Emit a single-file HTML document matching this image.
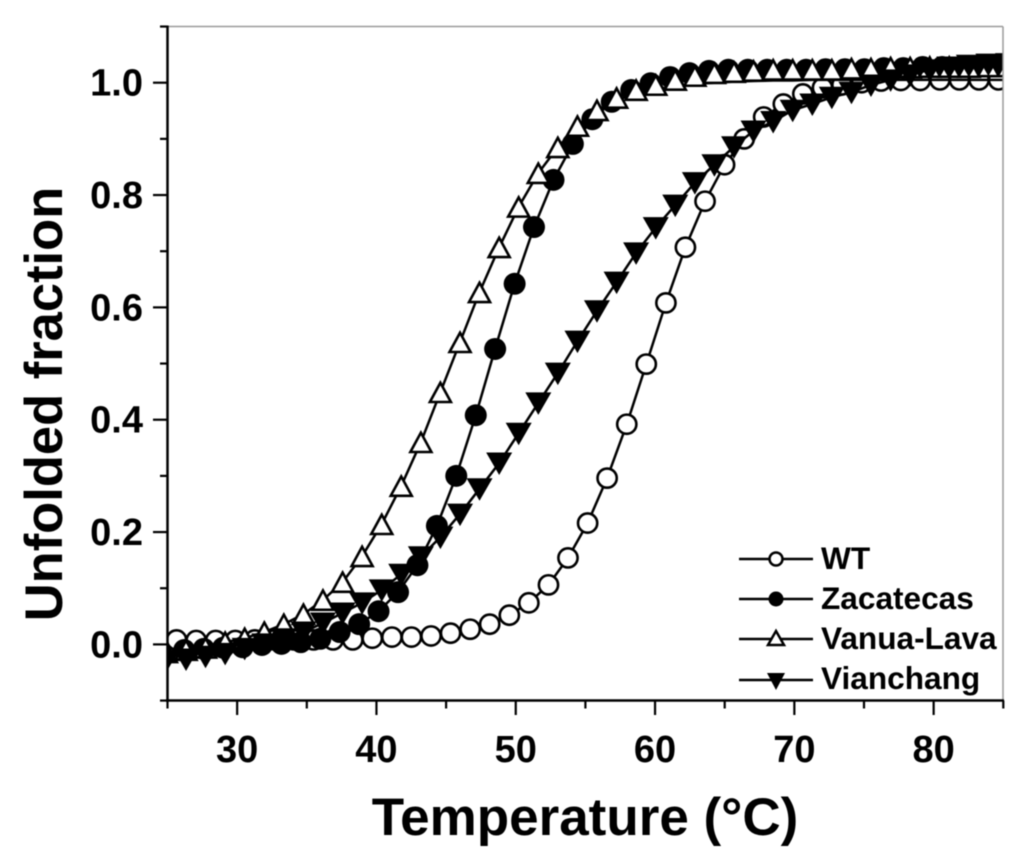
<!DOCTYPE html>
<html lang="en">
<head>
<meta charset="utf-8">
<title>Unfolded fraction vs Temperature</title>
<style>
  html, body { margin: 0; padding: 0; background: #fff; }
  svg { display: block; font-family: "Liberation Sans", Arial, sans-serif; font-weight: bold; fill: #000; filter: blur(0.4px); }
</style>
</head>
<body>
<svg id="chart" xmlns="http://www.w3.org/2000/svg" width="1024" height="867" viewBox="0 0 1024 867">
  <defs>
    <clipPath id="plot-clip"><rect x="167.5" y="26.5" width="835.5" height="674"></rect></clipPath>
  </defs>
  <rect x="0" y="0" width="1024" height="867" fill="#fff"></rect>
  <g id="series-layer" clip-path="url(#plot-clip)"></g>
  <g id="axes-layer"></g>
  <text x="585" y="835" text-anchor="middle" font-size="53">Temperature (°C)</text>
  <text transform="translate(62,404) rotate(-90)" text-anchor="middle" font-size="52.5">Unfolded fraction</text>
  <g>
    <g>
      <line x1="739" x2="813" y1="559" y2="559" stroke="#000" stroke-width="2.5"></line>
      <circle cx="776" cy="559" r="6.5" fill="#fff" stroke="#000" stroke-width="2.5"></circle>
      <text x="821" y="569" font-size="31.6">WT</text>
    </g>
    <g>
      <line x1="739" x2="813" y1="599" y2="599" stroke="#000" stroke-width="2.5"></line>
      <circle cx="776" cy="599" r="7.5" fill="#000"></circle>
      <text x="821" y="609" font-size="31.6">Zacatecas</text>
    </g>
    <g>
      <line x1="739" x2="813" y1="639" y2="639" stroke="#000" stroke-width="2.5"></line>
      <polygon points="776,631 784,645 768,645" fill="#fff" stroke="#000" stroke-width="2.5"></polygon>
      <text x="821" y="649" font-size="31.6">Vanua-Lava</text>
    </g>
    <g>
      <line x1="739" x2="813" y1="680" y2="680" stroke="#000" stroke-width="2.5"></line>
      <polygon points="767,673 785,673 776,690" fill="#000"></polygon>
      <text x="821" y="689" font-size="31.6">Vianchang</text>
    </g>
  </g>
</svg>
<script>
const xTickValues = [25, 30, 35, 40, 45, 50, 55, 60, 65, 70, 75, 80, 85];
const xTickLabels = ["", "30", "", "40", "", "50", "", "60", "", "70", "", "80", ""];
const yTickValues = [-0.1, 0, 0.1, 0.2, 0.3, 0.4, 0.5, 0.6, 0.7, 0.8, 0.9, 1.0, 1.1];
const yTickLabels = ["", "0.0", "", "0.2", "", "0.4", "", "0.6", "", "0.8", "", "1.0", ""];

const wtTemps = [25.65,27.06,28.46,29.87,31.27,32.68,34.08,35.49,36.89,38.30,39.70,41.11,42.51,43.92,45.32,46.73,48.13,49.54,50.94,52.35,53.75,55.16,56.56,57.97,59.37,60.78,62.18,63.59,64.99,66.40,67.80,69.21,70.61,72.02,73.42,74.83,76.23,77.64,79.04,80.45,81.85,83.26,84.66];
const wtValues = [.008,.007,.007,.007,.008,.008,.008,.008,.008,.008,.011,.013,.013,.015,.020,.027,.036,.052,.074,.106,.154,.216,.296,.392,.499,.608,.707,.789,.854,.900,.939,.962,.980,.991,.996,1.000,1.003,1.004,1.004,1.005,1.005,1.005,1.005];

const zacatecasTemps = [26.20,27.60,28.99,30.39,31.78,33.18,34.57,35.97,37.36,38.76,40.15,41.55,42.94,44.34,45.73,47.13,48.52,49.92,51.31,52.71,54.10,55.50,56.89,58.29,59.68,61.08,62.47,63.87,65.26,66.66,68.05,69.45,70.84,72.24,73.63,75.03,76.42,77.82,79.21,80.61,82.00,83.40,84.79];
const zacatecasValues = [-.010,-.008,-.006,-.005,-.001,.001,.004,.010,.022,.036,.059,.093,.141,.211,.300,.408,.526,.642,.743,.827,.891,.935,.966,.987,.999,1.010,1.017,1.021,1.023,1.023,1.023,1.023,1.023,1.024,1.024,1.024,1.026,1.026,1.028,1.028,1.029,1.029,1.029];

const vanuaTemps = [24.92,26.33,27.73,29.14,30.54,31.95,33.35,34.76,36.16,37.57,38.97,40.38,41.78,43.19,44.59,46.00,47.40,48.81,50.21,51.62,53.02,54.43,55.83,57.24,58.64,60.05,61.45,62.86,64.26,65.67,67.07,68.48,69.88,71.29,72.69,74.10,75.50,76.91,78.31,79.72,81.12,82.53,83.93,85.34];
const vanuaValues = [-.014,-.010,-.006,.004,.011,.022,.036,.054,.079,.111,.157,.214,.282,.360,.449,.538,.627,.707,.779,.839,.885,.923,.951,.973,.987,.996,1.005,1.012,1.017,1.019,1.021,1.023,1.023,1.023,1.023,1.025,1.025,1.027,1.027,1.028,1.028,1.028,1.029,1.029];
const vanuaFit = [-.014,-.010,-.006,.004,.011,.022,.036,.054,.079,.111,.157,.214,.282,.360,.449,.538,.627,.707,.779,.839,.885,.923,.951,.969,.980,.988,.994,.998,1.000,1.002,1.003,1.004,1.004,1.005,1.005,1.005,1.005,1.005,1.005,1.005,1.005,1.005,1.005,1.005];

const vianchangTemps = [24.92,26.33,27.73,29.14,30.54,31.95,33.35,34.76,36.16,37.57,38.97,40.38,41.78,43.19,44.59,46.00,47.40,48.81,50.21,51.62,53.02,54.43,55.83,57.24,58.64,60.05,61.45,62.86,64.26,65.67,67.07,68.48,69.88,71.29,72.69,74.10,75.50,76.91,78.31,79.72,81.12,82.53,83.93,85.34];
const vianchangValues = [-.028,-.026,-.021,-.016,-.007,.001,.010,.022,.038,.056,.074,.097,.125,.156,.191,.232,.277,.323,.376,.430,.483,.540,.594,.645,.697,.742,.782,.822,.854,.886,.914,.931,.951,.962,.974,.983,.996,1.005,1.014,1.023,1.028,1.031,1.033,1.034];

const SVG_NS = "http://www.w3.org/2000/svg";

function xScale(t) { return 167.5 + (t - 25) * 13.93; }
function yScale(v) { return 644.4 - v * 561.7; }

function make(tag, attrs, parent) {
  const el = document.createElementNS(SVG_NS, tag);
  for (const k in attrs) el.setAttribute(k, attrs[k]);
  parent.appendChild(el);
  return el;
}

const axes = document.getElementById("axes-layer");

const topFrame = make("line", { x1: 167.5, x2: 1003, y1: 26.5, y2: 26.5, stroke: "#9a9a9a", "stroke-width": 1.5 }, axes);


const rightFrame = make("line", { x1: 1003, x2: 1003, y1: 26.5, y2: 700.5, stroke: "#9a9a9a", "stroke-width": 1.5 }, axes);


const yAxisLine = make("line", { x1: 167.5, x2: 167.5, y1: 25.5, y2: 701.7, stroke: "#000", "stroke-width": 2.5 }, axes);


const xAxisLine = make("line", { x1: 166, x2: 1004, y1: 700.5, y2: 700.5, stroke: "#000", "stroke-width": 2.5 }, axes);



xTickValues.forEach(function (t, i) {
  const x = xScale(t);
  const major = xTickLabels[i] !== "";
  const tick = make("line", { x1: x, x2: x, y1: 700.5, y2: major ? 715 : 708.5, stroke: "#000", "stroke-width": 2.2 }, axes);
  
  
  if (major) {
    const label = make("text", { x: x, y: 762, "text-anchor": "middle", "font-size": 38 }, axes);
    label.textContent = xTickLabels[i];
    
    
  }
});

yTickValues.forEach(function (v, i) {
  const y = yScale(v);
  const major = yTickLabels[i] !== "";
  const tick = make("line", { x1: major ? 153 : 160, x2: 167.5, y1: y, y2: y, stroke: "#000", "stroke-width": 2.2 }, axes);
  
  
  if (major) {
    const label = make("text", { x: 143, y: y + 13, "text-anchor": "end", "font-size": 38 }, axes);
    label.textContent = yTickLabels[i];
    
    
  }
});

const layer = document.getElementById("series-layer");

function drawMarker(kind, x, y, parent) {
  let m;
  if (kind === "open-circle") {
    m = make("circle", { cx: x, cy: y, r: 9.6, fill: "#fff", stroke: "#000", "stroke-width": 2.6 }, parent);
  } else if (kind === "filled-circle") {
    m = make("circle", { cx: x, cy: y, r: 11, fill: "#000" }, parent);
  } else if (kind === "open-triangle") {
    m = make("polygon", { points: (x) + "," + (y - 9.5) + " " + (x + 10.5) + "," + (y + 9.8) + " " + (x - 10.5) + "," + (y + 9.8), fill: "#fff", stroke: "#000", "stroke-width": 2.6 }, parent);
  } else {
    m = make("polygon", { points: (x - 13) + "," + (y - 10.5) + " " + (x + 13) + "," + (y - 10.5) + " " + x + "," + (y + 12), fill: "#000" }, parent);
  }
  return m;
}

function polyPoints(temps, values) {
  return temps.map(function (t, i) { return xScale(t).toFixed(1) + "," + yScale(values[i]).toFixed(1); }).join(" ");
}

function drawSeries(name, kind, temps, values, lineValues) {
  const g = make("g", {}, layer);
  
  
  const line = make("polyline", { points: polyPoints(temps, lineValues), fill: "none", stroke: "#000", "stroke-width": 2.5, "stroke-linejoin": "round" }, g);
  
  
  temps.forEach(function (t, i) {
    const m = drawMarker(kind, xScale(t), yScale(values[i]), g);
    
    
  });
}

drawSeries("wt", "open-circle", wtTemps, wtValues, wtValues);
drawSeries("zacatecas", "filled-circle", zacatecasTemps, zacatecasValues, zacatecasValues);
drawSeries("vanua-lava", "open-triangle", vanuaTemps, vanuaValues, vanuaFit);
drawSeries("vianchang", "filled-triangle", vianchangTemps, vianchangValues, vianchangValues);
</script>
</body>
</html>
